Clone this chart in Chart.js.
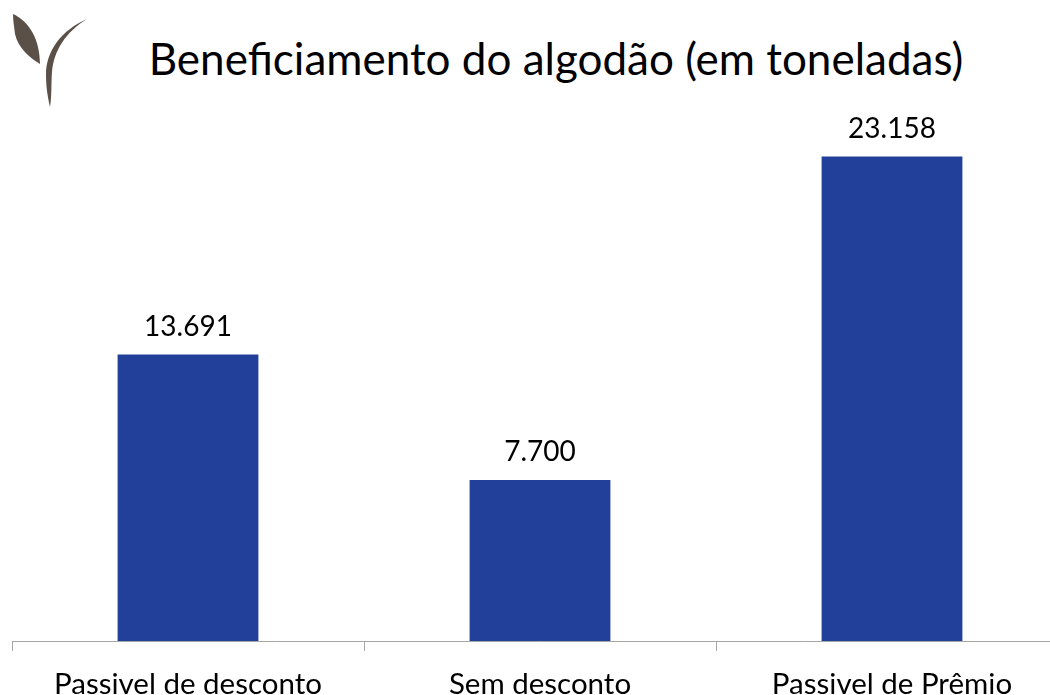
<!DOCTYPE html>
<html>
<head>
<meta charset="utf-8">
<script src="https://cdn.jsdelivr.net/npm/chart.js@4"></script>
<style>
  html, body { margin: 0; padding: 0; background: #fff; overflow: hidden; width: 1050px; height: 695px; }
  #logo { position: absolute; left: 0; top: 0; }
  #titulo { position: absolute; left: 0; width: 1112px; top: 32px; text-align: center;
    font-family: Lato, sans-serif; font-size: 44px; color: #000; margin: 0; font-weight: normal; }
  #box { position: absolute; left: 0; top: 0; width: 1068px; height: 695px; }
</style>
</head>
<body>
<svg id="logo" width="100" height="115" viewBox="0 0 100 115">
  <path d="M13,14 C30,22 40,40 40,64 C30,58 18,48 15,34 C14,26 13,20 13,14 Z" fill="#5a5048"/>
  <path d="M87,19 C62,30 46,50 46,75 C46,88 48,98 50,107 C52,96 51,84 52,72 C54,50 66,32 87,19 Z" fill="#5a5048"/>
</svg>
<h1 id="titulo">Beneficiamento do algodão (em toneladas)</h1>
<div id="box"><canvas id="grafico"></canvas></div>
<script>
const categorias = ['Passivel de desconto', 'Sem desconto', 'Passivel de Prêmio'];
const valores = [13691, 7700, 23158];

function formatar(v) {
  return v.toString().replace(/\B(?=(\d{3})+(?!\d))/g, '.');
}

// rótulos em cima das barras
const rotulos = {
  id: 'rotulos',
  afterDatasetsDraw(chart) {
    const ctx = chart.ctx;
    const meta = chart.getDatasetMeta(0);
    ctx.save();
    ctx.font = '28px Lato, sans-serif';
    ctx.fillStyle = '#000';
    ctx.textAlign = 'center';
    ctx.textBaseline = 'middle';
    meta.data.forEach((bar, i) => {
      ctx.fillText(formatar(valores[i]), bar.x, bar.y - 28);
    });
    ctx.restore();
  }
};

const ctx = document.getElementById('grafico').getContext('2d');
new Chart(ctx, {
  type: 'bar',
  data: {
    labels: categorias,
    datasets: [{
      data: valores,
      backgroundColor: '#22409a',
      barPercentage: 0.4,
      categoryPercentage: 1
    }]
  },
  options: {
    responsive: true,
    maintainAspectRatio: false,
    animation: false,
    layout: { padding: { top: 118, left: 12, right: 0, bottom: 0 } },
    plugins: {
      legend: { display: false },
      tooltip: { enabled: false }
    },
    scales: {
      x: {
        afterFit: scale => { scale.height = 54; },
        border: { display: true, color: '#a6a6a6', width: 1 },
        grid: { display: true, offset: true, drawOnChartArea: false, drawTicks: true, tickLength: 10, color: '#a6a6a6' },
        ticks: { color: '#000', padding: 19, font: { family: 'Lato, sans-serif', size: 29.5, lineHeight: 1 } }
      },
      y: {
        display: false,
        min: 0,
        max: 25000
      }
    }
  },
  plugins: [rotulos]
});
</script>
</body>
</html>
